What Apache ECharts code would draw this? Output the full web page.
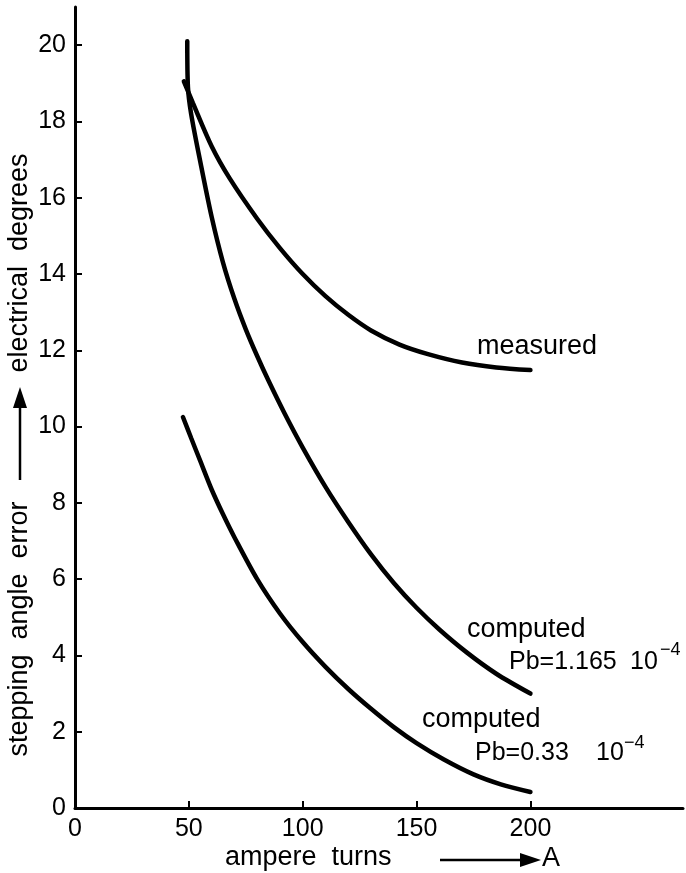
<!DOCTYPE html>
<html>
<head>
<meta charset="utf-8">
<script src="https://cdn.jsdelivr.net/npm/echarts@6/dist/echarts.min.js"></script>
<style>html,body{margin:0;padding:0;background:#fff}#c{width:686px;height:873px}</style>
</head>
<body>
<div id="c"></div>
<script>
// Axis ticks
const xTicks = [0, 50, 100, 150, 200];
const yTicks = [0, 2, 4, 6, 8, 10, 12, 14, 16, 18, 20];
// Series data [ampere turns, electrical degrees]
const measured = [[47.8,19.05],[51.8,18.48],[60,17.35],[68,16.5],[80,15.45],[90,14.68],[100,14.0],[110,13.42],[120,12.93],[130,12.52],[142.5,12.15],[155,11.9],[170,11.68],[185,11.55],[200,11.48]];
const computed1165 = [[49.3,20.1],[49.6,18.9],[51,18.2],[55,16.95],[60,15.5],[65,14.3],[70,13.35],[75,12.55],[80,11.85],[85,11.2],[92,10.35],[100,9.45],[110,8.42],[120,7.5],[130,6.65],[140,5.9],[150,5.25],[160,4.68],[172,4.08],[185,3.52],[200,3.0]];
const computed033 = [[47.4,10.25],[51,9.7],[55,9.1],[60,8.35],[65,7.7],[70,7.1],[80,6.0],[90,5.1],[100,4.35],[110,3.7],[120,3.12],[130,2.6],[140,2.12],[150,1.7],[162,1.27],[175,0.88],[187,0.62],[200,0.42]];
// Annotation texts
const labelMeasured = 'measured';
const labelComputed = 'computed';
const labelPb1 = 'Pb=1.165';
const labelPb2 = 'Pb=0.33';
const labelTen = '10';
const labelExp = '\u22124';
const xTitle = 'ampere  turns';
const xUnit = 'A';
const yTitle1 = 'stepping  angle  error';
const yTitle2 = 'electrical  degrees';

const FF = 'Liberation Sans';
const chart = echarts.init(document.getElementById('c'));
const lineStyle = {color:'#000', width:4.5, cap:'round'};
function mkSeries(data){
  return {type:'line', data:data, smooth:0.3, showSymbol:false, symbol:'none', lineStyle:lineStyle, silent:true};
}
const txt = (x, y, s, size, align) => ({type:'text', x:x, y:y, style:{text:s, fill:'#000', font: size+'px "'+FF+'"', align:align||'left', verticalAlign:'middle'}});
chart.setOption({
  animation:false,
  backgroundColor:'#fff',
  grid:{left:75, right:3, top:7, bottom:65, containLabel:false},
  xAxis:{type:'value', min:0, max:267,
    axisLine:{lineStyle:{color:'#000', width:3}},
    axisTick:{inside:true, length:7, lineStyle:{color:'#000', width:2}, customValues:xTicks},
    axisLabel:{customValues:xTicks, color:'#000', fontSize:25, fontFamily:FF, margin:9},
    splitLine:{show:false}},
  yAxis:{type:'value', min:0, max:21,
    axisLine:{show:true, lineStyle:{color:'#000', width:3}},
    axisTick:{show:true, inside:true, length:7, lineStyle:{color:'#000', width:2}, customValues:yTicks},
    axisLabel:{customValues:yTicks, color:'#000', fontSize:25, fontFamily:FF, margin:9},
    splitLine:{show:false}},
  series:[mkSeries(measured), mkSeries(computed1165), mkSeries(computed033)],
  graphic:[
    txt(477, 347, labelMeasured, 27),
    txt(467, 630, labelComputed, 27),
    txt(509, 662, labelPb1, 25),
    txt(630, 662, labelTen, 25),
    txt(660, 650, labelExp, 18),
    txt(422, 720, labelComputed, 27),
    txt(475, 753, labelPb2, 25),
    txt(596, 753, labelTen, 25),
    txt(624, 743, labelExp, 18),
    txt(225, 858, xTitle, 27),
    {type:'line', shape:{x1:440, y1:860, x2:524, y2:860}, style:{stroke:'#000', lineWidth:2.5}},
    {type:'polygon', shape:{points:[[520,853],[541,860],[520,867]]}, style:{fill:'#000'}},
    txt(542, 859, xUnit, 27),
    {type:'text', x:20, y:629, rotation:Math.PI/2, style:{text:yTitle1, fill:'#000', font:'27px "'+FF+'"', align:'center', verticalAlign:'middle'}},
    {type:'line', shape:{x1:20, y1:480, x2:20, y2:404}, style:{stroke:'#000', lineWidth:2.5}},
    {type:'polygon', shape:{points:[[13,408],[20,387],[27,408]]}, style:{fill:'#000'}},
    {type:'text', x:20, y:263, rotation:Math.PI/2, style:{text:yTitle2, fill:'#000', font:'27px "'+FF+'"', align:'center', verticalAlign:'middle'}}
  ]
});
</script>
</body>
</html>
